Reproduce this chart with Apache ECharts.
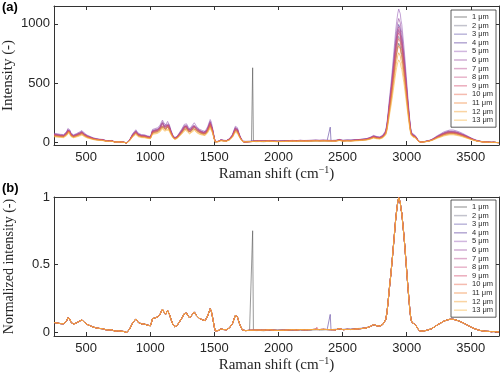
<!DOCTYPE html>
<html>
<head>
<meta charset="utf-8">
<script src="https://cdn.jsdelivr.net/npm/echarts@6/dist/echarts.min.js"></script>
<style>html,body{margin:0;padding:0;background:#fff}#c{width:500px;height:374px}</style>
</head>
<body>
<div id="c"></div>
<script>
// ---------------- DATA ----------------
const seriesNames = ['1 μm','2 μm','3 μm','4 μm','5 μm','6 μm','7 μm','8 μm','9 μm','10 μm','11 μm','12 μm','13 μm'];
// peak (~2940 cm-1) intensity of each spectrum, panel (a)
const peakIntensity = [840, 900, 950, 1000, 1130, 1050, 980, 960, 930, 880, 820, 760, 700];
// Raman shift (cm-1) sample positions
const wavenumber = [
 250,262,275,288,300,312,325,338,350,358,366,374,382,392,402,414,426,438,450,460,468,476,486,496,
 508,520,532,544,556,568,580,592,604,616,628,640,652,664,676,688,700,712,724,736,748,760,772,784,796,808,818,
 828,840,852,864,876,888,898,908,920,932,944,956,968,980,992,1002,1010,1018,1026,1036,1046,1056,1066,1076,1086,
 1096,1104,1112,1120,1128,1136,1144,1152,1160,1168,1176,1184,1192,1200,1210,1220,1232,1244,1256,1266,1276,1284,
 1292,1300,1308,1316,1326,1336,1344,1352,1362,1372,1384,1396,1408,1418,1428,1438,1448,1458,1468,1476,1484,1492,
 1500,1508,1518,1530,1542,1552,1562,1572,1582,1594,1606,1618,1630,1642,1654,1664,1672,1680,1690,1700,1710,1720,
 1730,1745,1760,1775,1790,1812,1825,1840,1855,1870,1885,1900,1915,1930,1945,1960,1975,1990,2005,2020,2035,2050,
 2065,2080,2095,2110,2125,2140,2155,2170,2185,2200,2215,2230,2245,2260,2275,2290,2305,2320,2335,2350,2365,2380,
 2395,2415,2430,2445,2460,2475,2490,2505,2520,2535,2550,2565,2580,2595,2610,2625,2640,2655,2670,2685,2700,2715,
 2730,2742,2754,2766,2778,2790,2802,2814,2826,2836,2846,2856,2866,2876,2886,2896,2906,2914,2922,2930,2938,2944,
 2950,2956,2962,2970,2978,2986,2994,3002,3010,3018,3026,3034,3042,3050,3058,3066,3074,3082,3090,3100,3110,3122,
 3134,3146,3158,3170,3182,3194,3206,3218,3230,3242,3254,3266,3278,3290,3302,3314,3326,3338,3350,3362,3374,3386,
 3398,3410,3422,3434,3446,3458,3470,3482,3494,3506,3518,3530,3542,3554,3566,3578,3590,3605,3620,3640,3660,3680,3700,3720
];
// normalized intensity (panel b)
const normIntensity = [
 .070,.064,.066,.060,.062,.057,.060,.066,.085,.105,.118,.095,.072,.060,.058,.062,.068,.074,.080,.086,.090,.078,.072,.062,
 .056,.052,.046,.042,.036,.034,.030,.028,.026,.022,.024,.020,.017,.020,.014,.012,.016,.009,.006,.012,.008,.004,.006,.010,.003,.000,-.004,
 .006,.022,.045,.068,.082,.096,.084,.070,.062,.060,.056,.058,.052,.050,.045,.046,.070,.098,.108,.104,.102,.110,.114,.128,.150,
 .168,.152,.138,.132,.146,.158,.150,.126,.100,.078,.058,.044,.038,.040,.048,.062,.080,.098,.118,.136,.150,.140,
 .124,.110,.104,.112,.126,.140,.148,.134,.120,.112,.100,.094,.090,.086,.084,.096,.118,.146,.172,.156,.120,.080,
 .036,.008,.006,.010,.012,.022,.024,.018,.020,.016,.026,.030,.040,.062,.096,.122,.132,.112,.080,.052,.030,.014,
 .006,.010,.008,.012,.010,.013,.010,.014,.011,.013,.009,.014,.012,.016,.011,.013,.015,.011,.014,.012,.016,.013,
 .011,.015,.013,.017,.012,.015,.014,.018,.013,.016,.014,.017,.013,.018,.015,.019,.016,.018,.014,.019,.016,.018,
 .015,.017,.019,.016,.021,.024,.018,.017,.021,.019,.022,.018,.023,.021,.025,.023,.027,.026,.031,.030,.035,.040,
 .046,.054,.052,.046,.042,.043,.046,.056,.070,.090,.140,.230,.330,.420,.520,.630,.740,.830,.900,.960,.995,1.000,
 .960,.910,.880,.800,.720,.630,.530,.430,.330,.240,.150,.090,.070,.064,.060,.058,.046,.030,.016,.008,.004,.006,
 .008,.010,.012,.016,.018,.024,.030,.038,.046,.054,.060,.066,.074,.080,.084,.088,.092,.094,.092,.094,.090,.088,
 .084,.080,.074,.070,.064,.058,.052,.046,.040,.034,.028,.024,.018,.016,.012,.010,.008,.006,.005,.004,.002,.003,.001,.000
];
// narrow spikes seen only in single spectra (normalized)
const spike1umShift = [1793, 1799, 1805];
const spike1umValue = [0.012, 0.75, 0.012];
const spike4umShift = [2398, 2404, 2410];
const spike4umValue = [0.016, 0.13, 0.016];
const spike9umShift = [2296, 2300, 2304];
const spike9umValue = [0.016, 0.035, 0.016];
const xTicks = [500, 1000, 1500, 2000, 2500, 3000, 3500];
const yTicksA = [0, 500, 1000];
const yTicksB = [0, 0.5, 1];
// ---------------- STYLE ----------------
const colors = ['#555555','#7a7a90','#6a5fb0','#5a3f9e','#9a60b8','#9a4aa0','#b84a90','#cc5a8c','#d2486a','#e8684e','#f08030','#f5a030','#f8b848'];

function spectrum(i, scale) {
  const pts = wavenumber.map((w, k) => [w, normIntensity[k]]);
  if (i === 0) spike1umShift.forEach((w, k) => pts.push([w, spike1umValue[k]]));
  if (i === 3) spike4umShift.forEach((w, k) => pts.push([w, spike4umValue[k]]));
  if (i === 8) spike9umShift.forEach((w, k) => pts.push([w, spike9umValue[k]]));
  pts.sort((a, b) => a[0] - b[0]);
  return pts.map(p => [p[0], +(p[1] * scale).toFixed(4)]);
}

const axisCol = '#333';
const labelFont = {fontFamily: 'Liberation Sans', fontSize: 13, color: '#262626', formatter: v => String(v)};
function xAx(grid, pos, showLabel, withName) {
  return {
    type: 'value', gridIndex: grid, position: pos, min: 250, max: 3720,
    axisLine: {show: true, onZero: false, lineStyle: {color: axisCol, width: 1}},
    axisTick: {show: true, inside: true, length: 4, customValues: xTicks, lineStyle: {color: axisCol}},
    axisLabel: Object.assign({show: showLabel, margin: 6, customValues: xTicks}, labelFont),
    splitLine: {show: false},
    name: withName ? '{a|Raman shift (cm}{s|−1}{a|)}' : '',
    nameLocation: 'middle', nameGap: 20, nameMoveOverlap: false,
    nameTextStyle: {fontFamily: 'Liberation Serif', fontSize: 15, color: '#262626',
      rich: {a: {fontFamily: 'Liberation Serif', fontSize: 15, color: '#262626'},
             s: {fontFamily: 'Liberation Serif', fontSize: 10, color: '#262626', padding: [0, 0, 8, 0]}}}
  };
}
function yAx(grid, pos, min, max, ticks, showLabel, name, nameSize) {
  return {
    type: 'value', gridIndex: grid, position: pos, min: min, max: max,
    axisLine: {show: true, onZero: false, lineStyle: {color: axisCol, width: 1}},
    axisTick: {show: true, inside: true, length: 4, customValues: ticks, lineStyle: {color: axisCol}},
    axisLabel: Object.assign({show: showLabel, margin: 4, customValues: ticks}, labelFont),
    splitLine: {show: false},
    name: name || '', nameLocation: 'middle', nameGap: 38, nameMoveOverlap: false,
    nameTextStyle: {fontFamily: 'Liberation Serif', fontSize: nameSize || 15, color: '#262626'}
  };
}

const series = [];
for (let p = 0; p < 2; p++) {
  seriesNames.forEach((n, i) => {
    series.push({
      type: 'line', name: n, xAxisIndex: p * 2, yAxisIndex: p * 2,
      data: spectrum(i, p === 0 ? peakIntensity[i] : 1),
      showSymbol: false, symbol: 'none', animation: false,
      lineStyle: {color: colors[i], width: 1, opacity: 0.6},
      itemStyle: {color: colors[i], opacity: 0.45}
    });
  });
}

function legend(top) {
  return {
    data: seriesNames, orient: 'vertical', right: 4, top: top,
    icon: 'rect', itemWidth: 13, itemHeight: 1.5, itemGap: 0.6, itemTextGap: 3,
    padding: [3, 3, 3, 3], backgroundColor: '#fff', borderColor: '#333', borderWidth: 0.8,
    textStyle: {fontFamily: 'Liberation Sans', fontSize: 7.5, lineHeight: 7.8, color: '#262626'},
    selectedMode: false
  };
}

const chart = echarts.init(document.getElementById('c'), null, {renderer: 'canvas'});
chart.setOption({
  animation: false,
  backgroundColor: '#fff',
  grid: [
    {left: 54, right: 1, top: 6, height: 139, outerBoundsMode: 'none', containLabel: false},
    {left: 54, right: 1, top: 197, height: 139, outerBoundsMode: 'none', containLabel: false}
  ],
  xAxis: [xAx(0, 'bottom', true, true), xAx(0, 'top', false, false), xAx(1, 'bottom', true, true), xAx(1, 'top', false, false)],
  yAxis: [
    yAx(0, 'left', -20, 1150, yTicksA, true, 'Intensity (-)', 15), yAx(0, 'right', -20, 1150, yTicksA, false),
    yAx(1, 'left', -0.03, 1, yTicksB, true, 'Normalized intensity (-)', 14), yAx(1, 'right', -0.03, 1, yTicksB, false)
  ],
  legend: [legend(10), legend(200)],
  graphic: [
    {type: 'text', left: 2, top: 1, style: {text: '(a)', font: 'bold 13px "Liberation Sans"', fill: '#000'}},
    {type: 'text', left: 2, top: 182, style: {text: '(b)', font: 'bold 13px "Liberation Sans"', fill: '#000'}}
  ],
  series: series
});
</script>
</body>
</html>
